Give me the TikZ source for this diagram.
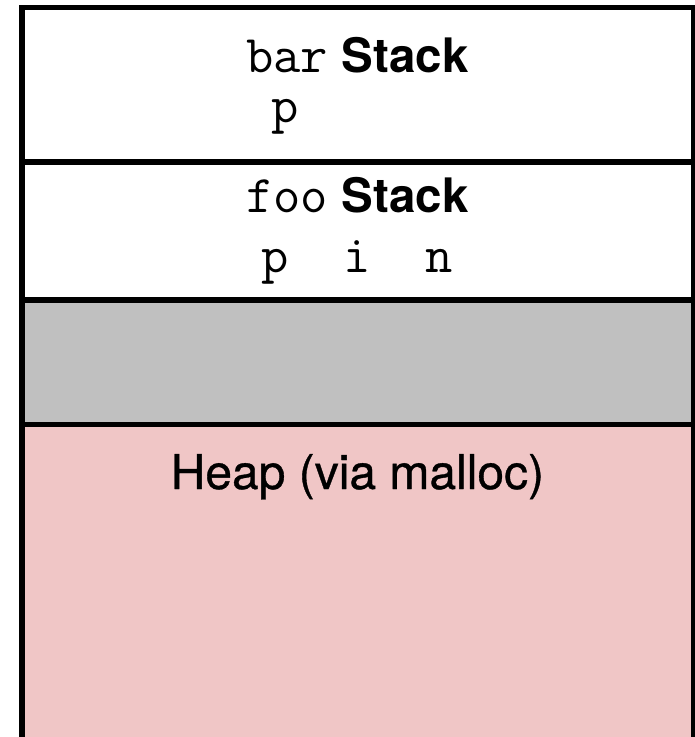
\documentclass[tikz,border=0pt]{standalone}
\usepackage{fontspec}
\setmainfont{TeX Gyre Heros}
\newfontfamily\medfont{TeX Gyre Heros}[BoldFont={TeX Gyre Heros},BoldFeatures={FakeBold=0.7}]
\definecolor{gapgray}{RGB}{192,192,192}
\definecolor{heappink}{RGB}{240,198,198}
\tikzset{
  border/.style={line width=5.5pt, draw=black},
  lbl/.style={anchor=base, inner sep=0pt, font=\fontsize{47.5}{52}\selectfont},
  codelbl/.style={anchor=base, inner sep=0pt, font=\fontsize{53}{56}\selectfont\ttfamily},
}
\begin{document}
\begin{tikzpicture}[x=1pt,y=-1pt]
\useasboundingbox (0,0) rectangle (695,737);
% region fills
\fill[white] (21.8,7.7) rectangle (695,300);
\fill[gapgray] (21.8,300) rectangle (695,424.5);
\fill[heappink] (21.8,424.5) rectangle (695,740);
% outer frame (bottom is open / cut off)
\draw[border] (21.8,745) -- (21.8,7.7) -- (693.5,7.7) -- (693.5,745);
% dividers
\draw[border] (21.8,162) -- (693.5,162);
\draw[border] (21.8,300) -- (693.5,300);
\draw[border] (21.8,424.5) -- (693.5,424.5);
% labels
\node[lbl] (barlbl) at (357.4,72) {{\ttfamily\fontsize{53}{56}\selectfont bar} \textbf{Stack}};
\node[codelbl] (barvars) at (285,122) {p};
\node[lbl] (foolbl) at (357.4,212) {{\ttfamily\fontsize{53}{56}\selectfont foo} \textbf{Stack}};
\node[codelbl] (foovars) at (357.4,272) {p~~i~~n};
\node[lbl, font=\fontsize{48}{52}\selectfont\medfont\bfseries] (heaplbl) at (357.4,489) {Heap (via malloc)};
\end{tikzpicture}
\end{document}
